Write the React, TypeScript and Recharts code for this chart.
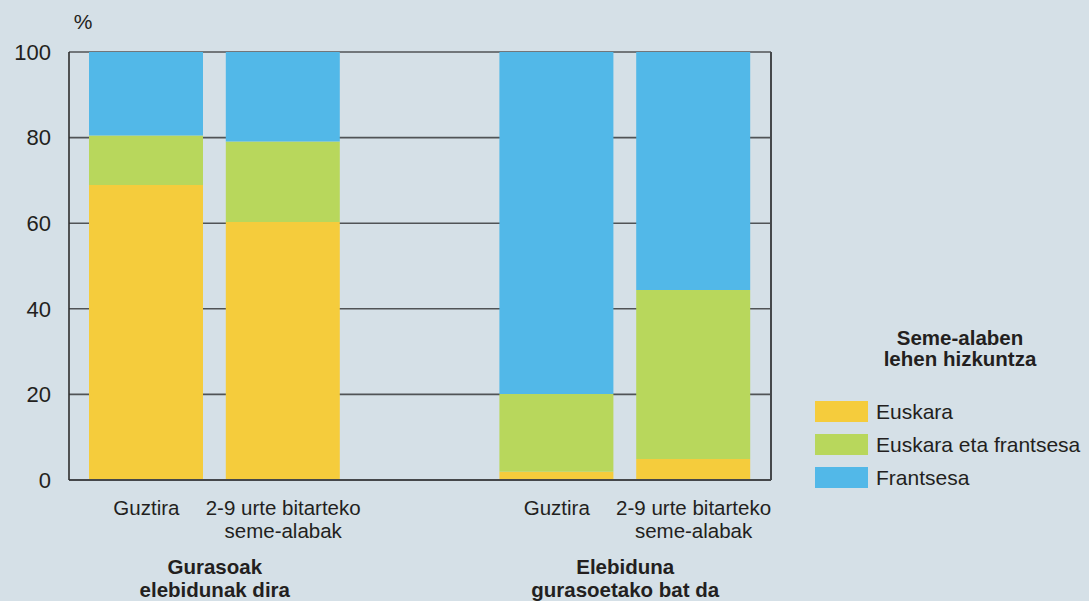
import React from 'react';
import { BarChart, Bar, XAxis, YAxis, CartesianGrid, Legend } from 'recharts';

// Categories (the empty one is the gap between the two parent groups)
const categories = ['Guztira', '2-9 urte bitarteko\nseme-alabak', '', 'Guztira', '2-9 urte bitarteko\nseme-alabak'];
const groupLabels = ['Gurasoak\nelebidunak dira', 'Elebiduna\ngurasoetako bat da'];
const groupStarts = [0, 3];

// Seme-alaben lehen hizkuntza (%)
const euskara = [68.9, 60.3, null, 1.9, 4.9];
const euskaraFrantsesa = [11.6, 18.8, null, 18.2, 39.5];
const frantsesa = [19.5, 20.9, null, 79.9, 55.6];

const yTicks = [0, 20, 40, 60, 80, 100];
const seriesNames = ['Euskara', 'Euskara eta frantsesa', 'Frantsesa'];
const seriesColors = ['#f5cc3c', '#b8d75c', '#52b8e8'];
const legendTitle = ['Seme-alaben', 'lehen hizkuntza'];

const FONT = '"Liberation Sans", Arial, Helvetica, sans-serif';
const TEXT = '#231f20';

const data = categories.map((name, i) => ({
  name,
  euskara: euskara[i],
  mixed: euskaraFrantsesa[i],
  frantsesa: frantsesa[i],
}));

const XTick = (props: any) => {
  const { x, y, payload } = props;
  const idx = payload.index;
  const lines = String(categories[idx] ?? '').split('\n');
  const g = groupStarts.indexOf(idx);
  const half = payload.offset ?? 68;
  return (
    <g>
      <text x={x} y={y} textAnchor="middle" fontFamily={FONT} fontSize={20.5} fill={TEXT}>
        {lines.map((l, i) => (
          <tspan key={i} x={x} dy={i === 0 ? 35 : 23}>{l}</tspan>
        ))}
      </text>
      {g >= 0 && (
        <text x={x + half} y={y} textAnchor="middle" fontFamily={FONT} fontSize={20.5} fontWeight="bold" fill={TEXT}>
          {groupLabels[g].split('\n').map((l, i) => (
            <tspan key={i} x={x + half} dy={i === 0 ? 94 : 23}>{l}</tspan>
          ))}
        </text>
      )}
    </g>
  );
};

const LegendBox = () => (
  <div style={{ fontFamily: FONT, color: TEXT, width: 270 }}>
    <div style={{ fontWeight: 'bold', fontSize: 20.5, lineHeight: '21px', textAlign: 'center', marginLeft: 20, width: 250 }}>
      {legendTitle.map((t) => <div key={t}>{t}</div>)}
    </div>
    <div style={{ marginTop: 26 }}>
      {seriesNames.map((n, i) => (
        <div key={n} style={{ display: 'flex', alignItems: 'center', height: 33 }}>
          <span style={{ width: 53, height: 21, background: seriesColors[i], display: 'inline-block', flex: 'none' }} />
          <span style={{ marginLeft: 8, fontSize: 21, whiteSpace: 'nowrap' }}>{n}</span>
        </div>
      ))}
    </div>
  </div>
);

export default function App() {
  return (
    <div style={{ position: 'absolute', left: 0, top: 0, width: 1089, height: 601, background: '#d5e0e7' }}>
      <BarChart width={1089} height={601} data={data} margin={{ top: 52, right: 317, bottom: 0, left: 0 }}>
        <CartesianGrid yAxisId="l" vertical={false} stroke="#505356" strokeWidth={1.6} />
        <XAxis
          dataKey="name"
          height={121}
          tickLine={false}
          tickSize={0}
          tickMargin={0}
          interval={0}
          padding={{ left: 9, right: 9 }}
          axisLine={{ stroke: '#45484b', strokeWidth: 2 }}
          tick={<XTick />}
        />
        <YAxis
          yAxisId="l"
          domain={[0, 100]}
          ticks={yTicks}
          width={69}
          tickLine={false}
          tickMargin={12}
          axisLine={{ stroke: '#2e2e2e', strokeWidth: 1.6 }}
          tick={{ fontFamily: FONT, fontSize: 22, fill: TEXT }}
          label={{
            content: () => (
              <text x={83} y={29} textAnchor="middle" fontFamily={FONT} fontSize={21} fill={TEXT}>%</text>
            ),
          }}
        />
        <YAxis
          yAxisId="r"
          orientation="right"
          domain={[0, 100]}
          width={1}
          tick={false}
          tickLine={false}
          axisLine={{ stroke: '#45484b', strokeWidth: 2 }}
        />
        <Legend
          layout="vertical"
          align="center"
          verticalAlign="middle"
          content={<LegendBox />}
          wrapperStyle={{ left: 815, top: 327, width: 274 }}
        />
        <Bar yAxisId="l" dataKey="euskara" name={seriesNames[0]} stackId="a" fill={seriesColors[0]} barSize={114} isAnimationActive={false} />
        <Bar yAxisId="l" dataKey="mixed" name={seriesNames[1]} stackId="a" fill={seriesColors[1]} barSize={114} isAnimationActive={false} />
        <Bar yAxisId="l" dataKey="frantsesa" name={seriesNames[2]} stackId="a" fill={seriesColors[2]} barSize={114} isAnimationActive={false} />
      </BarChart>
    </div>
  );
}
